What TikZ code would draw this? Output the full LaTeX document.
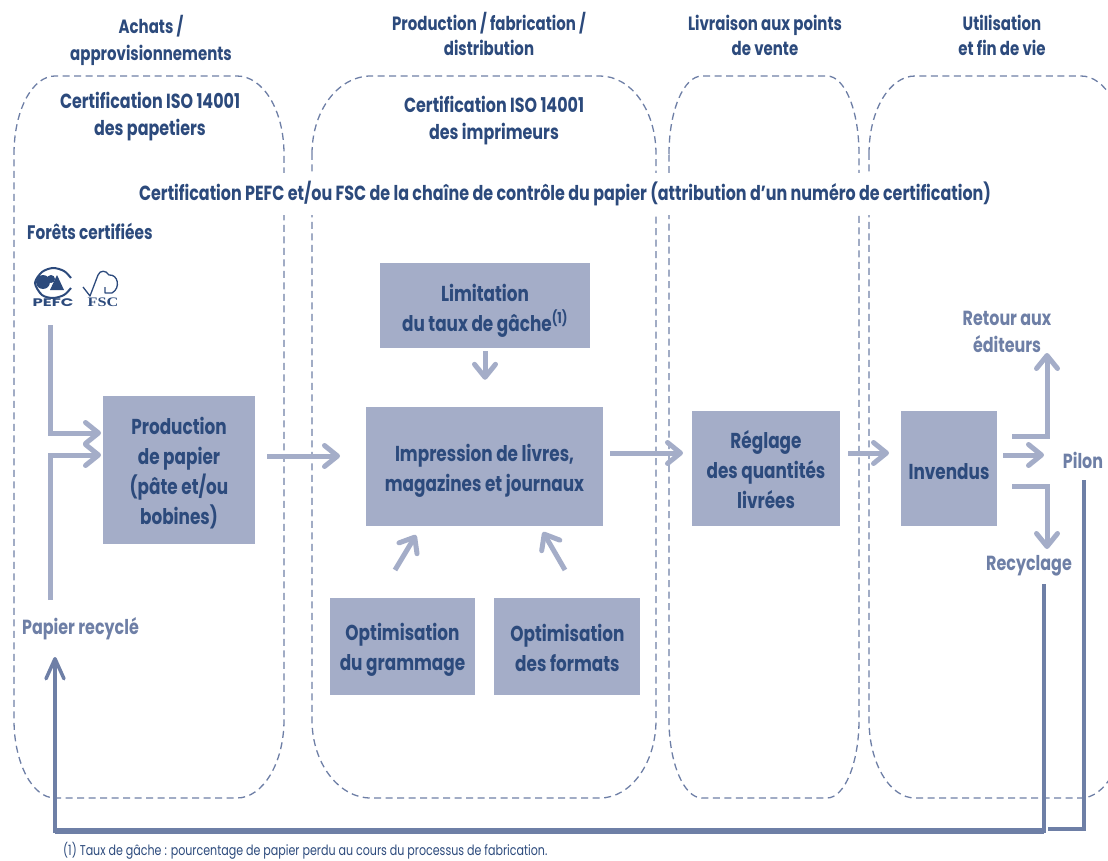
\documentclass[tikz,border=0pt]{standalone}
\usepackage{fontspec}
\setmainfont[FakeStretch=0.78]{Poppins}
\newfontfamily\labelserif[FakeStretch=1.25]{Liberation Serif}
\newfontfamily\labelsans[FakeStretch=1.5]{Poppins}
\usetikzlibrary{arrows.meta}
\usetikzlibrary{positioning}
\definecolor{boxblue}{HTML}{A4ADC8}
\definecolor{darkblue}{HTML}{2C4A7C}
\definecolor{midblue}{HTML}{6E7FA6}
\tikzset{
box/.style 2 args={fill=boxblue,inner sep=0pt,label={[text=darkblue,font=\fontsize{21.6}{30}\selectfont\bfseries,align=center,inner sep=0pt,yshift=#1]center:{#2}}},
head/.style={text=darkblue,font=\fontsize{20.4}{27}\selectfont\bfseries,align=center,inner sep=0pt},
title/.style={text=darkblue,font=\fontsize{19.2}{25}\selectfont\bfseries,align=center,inner sep=0pt},
soft/.style={text=midblue,font=\fontsize{20.4}{27}\selectfont\bfseries,align=center,inner sep=0pt},
zone/.style={draw=midblue,line width=1.3pt,dash pattern=on 7pt off 4.5pt},
flow/.style={draw=boxblue,line width=5pt,-{Straight Barb[round,length=13pt,width=21pt,line width=5pt]}},
back/.style={draw=midblue,line width=3.5pt},
}
\begin{document}
\begin{tikzpicture}[x=1pt,y=-1pt]
\clip (0,0) rectangle (1108,861);
%The dashed zones
\foreach \l/\lf/\rf/\r in {14/55/237/284, 312/371/600/656, 669/702/827/859, 869/915/1081/1125} {
	\draw[zone] ({\l},154) .. controls ({\l},110) and ({0.55*\l+0.45*\lf},76) .. ({\lf},76)
		-- ({\rf},76) .. controls ({0.55*\r+0.45*\rf},76) and ({\r},110) .. ({\r},154)
		-- ({\r},720) .. controls ({\r},763) and ({0.55*\r+0.45*\rf},798) .. ({\rf},798)
		-- ({\lf},798) .. controls ({0.55*\l+0.45*\lf},798) and ({\l},763) .. ({\l},720) -- cycle;
}

%Place the nodes
\node[title] (achats) at (151,40) {Achats /\\[2pt]approvisionnements};
\node[title] (fabrication) at (489,34) {Production / fabrication /\\distribution};
\node[title] (livraison) at (765,35) {Livraison aux points\\de vente};
\node[title] (utilisation) at (1002,35) {Utilisation\\et fin de vie};
\node[head] (isopapetiers) at (150,117) {Certification ISO 14001\\des papetiers};
\node[head] (isoimprimeurs) at (494,121) {Certification ISO 14001\\des imprimeurs};
\node[head,fill=white,inner xsep=6pt,inner ysep=9pt] (chaine) at (565,194) {Certification PEFC et/ou FSC de la chaîne de contrôle du papier (attribution d’un numéro de certification)};
\node[head,anchor=west,font=\fontsize{19.6}{27}\selectfont\bfseries] (forets) at (27,231) {Forêts certifiées};

\node[box={-3pt}{Production\\de papier\\(pâte et/ou\\bobines)},minimum width=152pt,minimum height=148pt] (production) at (179,470) {};
\node[box={-5pt}{Limitation\\du taux de gâche\textsuperscript{(1)}},minimum width=210pt,minimum height=85pt] (limitation) at (485,305.5) {};
\node[box={-4pt}{Impression de livres,\\magazines et journaux},minimum width=237pt,minimum height=119pt] (impression) at (484.5,466.5) {};
\node[box={-3pt}{Optimisation\\du grammage},minimum width=145pt,minimum height=97pt] (grammage) at (402.5,646.5) {};
\node[box={-1pt}{Optimisation\\des formats},minimum width=146pt,minimum height=97pt,right=19pt of grammage] (formats) {};
\node[box={-1pt}{Réglage\\des quantités\\livrées},minimum width=148pt,minimum height=115pt] (reglage) at (766,468.5) {};
\node[box={-3pt}{Invendus},minimum width=96pt,minimum height=115pt] (invendus) at (949,468.5) {};

\node[soft] (retour) at (1007,332) {Retour aux\\éditeurs};
\node[soft] (pilon) at (1083,460) {Pilon};
\node[soft] (recyclage) at (1029,566) {Recyclage};
\node[soft,anchor=west] (papier) at (22,629) {Papier recyclé};
\node[anchor=west,text=darkblue,inner sep=0pt,font=\fontsize{14.2}{16}\selectfont] (note) at (63,851) {(1) Taux de gâche : pourcentage de papier perdu au cours du processus de fabrication.};

%The two labels
\draw[darkblue,line width=2pt] plot[smooth] coordinates {(71,288) (64,295) (53,298) (42,295) (35,283) (42,272) (53,268) (64,271) (71,278)};
\fill[darkblue] (43,282) circle (7pt);
\fill[darkblue] (51,279) circle (4pt);
\fill[darkblue] (57,275) -- (64,290) -- (50,290) -- cycle;
\node[inner sep=0pt,text=darkblue,font=\labelsans\fontsize{11}{12}\selectfont\bfseries] (pefc) at (53,303) {PEFC};
\draw[darkblue,line width=1.3pt,line join=round] (83,287) -- (90,296) -- (98,275) .. controls (100,270) and (106,270) .. (109,275) .. controls (118,274) and (121,288) .. (112,293) -- (105,293) -- (105,287);
\node[inner sep=0pt,text=darkblue,font=\labelserif\fontsize{13}{14}\selectfont\bfseries] (fsc) at (103,302) {FSC};

%The connectors
\coordinate (logos) at (50,325);
\coordinate (jointop) at (50,433);
\coordinate (prodtop) at (101,433);
\coordinate (papiertop) at (50,600);
\coordinate (joinlow) at (50,455);
\coordinate (prodlow) at (101,455);
\draw[flow] (logos) -- (jointop) -- (prodtop);
\draw[flow] (papiertop) -- (joinlow) -- (prodlow);

\coordinate (prodout) at (267,456);
\coordinate (prodin) at (340,456);
\draw[flow] (prodout) -- (prodin);
\draw[flow,shorten <=3pt,shorten >=27pt] (limitation.south) -- (limitation.south |- impression.north);
\coordinate (gramout) at (395,570);
\coordinate (gramin) at (416,535);
\draw[flow] (gramout) -- (gramin);
\coordinate (formout) at (565,570);
\coordinate (formin) at (543,532);
\draw[flow] (formout) -- (formin);
\coordinate (impout) at (610,453);
\coordinate (impin) at (683,453);
\draw[flow] (impout) -- (impin);
\coordinate (regout) at (848,453);
\coordinate (regin) at (889,453);
\draw[flow] (regout) -- (regin);

\coordinate (retourout) at (1012,436);
\coordinate (retourknee) at (1047,436);
\coordinate (retourin) at (1047,353);
\draw[flow] (retourout) -- (retourknee) -- (retourin);
\coordinate (pilonout) at (1003,455);
\coordinate (pilonin) at (1044,455);
\draw[flow] (pilonout) -- (pilonin);
\coordinate (recout) at (1012,486);
\coordinate (recknee) at (1047,486);
\coordinate (recin) at (1047,549);
\draw[flow] (recout) -- (recknee) -- (recin);

\coordinate (pilonback) at (1084,480);
\coordinate (pilonknee) at (1084,829);
\coordinate (pilonend) at (1048,829);
\draw[back] (pilonback) -- (pilonknee) -- (pilonend);
\coordinate (recback) at (1044,584);
\coordinate (recknee2) at (1044,831);
\coordinate (papierknee) at (55,831);
\coordinate (papierin) at (55,657);
\draw[back,-{Straight Barb[round,length=20pt,width=18pt,line width=3.5pt]}] (recback) -- (recknee2) -- (papierknee) -- (papierin);
\draw[back,line width=5.5pt] (recknee2) -- (papierknee);
\end{tikzpicture}
\end{document}
